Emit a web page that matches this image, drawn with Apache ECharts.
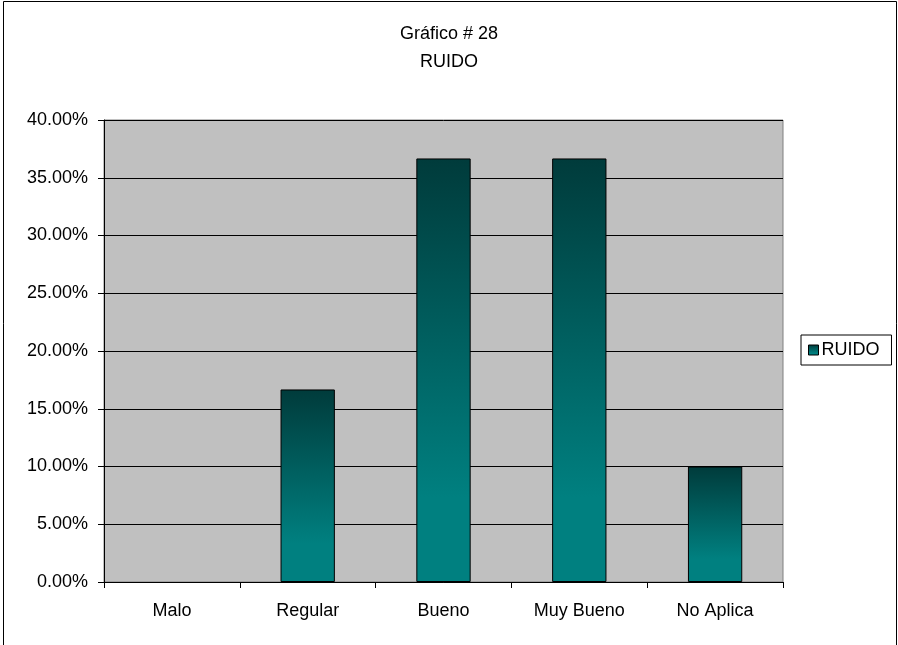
<!DOCTYPE html>
<html>
<head>
<meta charset="utf-8">
<script src="https://cdn.jsdelivr.net/npm/echarts@6/dist/echarts.min.js"></script>
<style>
html,body{margin:0;padding:0;background:#fff;}
#main{width:898px;height:645px;}
</style>
</head>
<body>
<div id="main"></div>
<script>
var categories = ['Malo', 'Regular', 'Bueno', 'Muy Bueno', 'No Aplica'];
var values = [0, 16.67, 36.67, 36.67, 10];
var yTicks = { min: 0, max: 40, interval: 5 };

var chart = echarts.init(document.getElementById('main'));
var font = 'Arial, "Liberation Sans", sans-serif';

var barFill = new echarts.graphic.LinearGradient(0, 0, 0, 1, [
    { offset: 0, color: '#003b3b' },
    { offset: 0.8, color: '#008080' },
    { offset: 1, color: '#008080' }
]);

// zero bars get no outline, like the original
var barData = values.map(function (v) {
    return v === 0 ? { value: v, itemStyle: { borderWidth: 0 } } : v;
});

var option = {
    backgroundColor: '#fff',
    animation: false,
    title: {
        text: 'Gráfico # 28\nRUIDO',
        left: 'center',
        top: 15,
        textStyle: {
            fontFamily: font,
            fontSize: 18,
            fontWeight: 'normal',
            color: '#000',
            lineHeight: 28
        }
    },
    graphic: [{
        type: 'rect',
        shape: { x: 3.5, y: 1.5, width: 893, height: 660 },
        style: { fill: 'none', stroke: '#000', lineWidth: 1 },
        silent: true
    }],
    legend: {
        data: ['RUIDO'],
        left: 801,
        top: 335,
        orient: 'vertical',
        icon: 'rect',
        itemWidth: 10,
        itemHeight: 10,
        itemGap: 0,
        padding: [6, 12, 6, 7],
        borderColor: '#000',
        borderWidth: 1,
        backgroundColor: '#fff',
        textStyle: { fontFamily: font, fontSize: 18, color: '#000', padding: [0, 0, 0, -2] },
        itemStyle: { borderColor: '#000', borderWidth: 1 }
    },
    grid: {
        left: 104,
        right: 115,
        top: 120,
        bottom: 63,
        show: true,
        backgroundColor: '#c0c0c0',
        borderColor: '#808080',
        borderWidth: 1
    },
    xAxis: {
        type: 'category',
        data: categories,
        axisLine: { lineStyle: { color: '#000', width: 1 } },
        axisTick: { show: true, length: 6, alignWithLabel: false, lineStyle: { color: '#000' } },
        axisLabel: { fontFamily: font, fontSize: 18, color: '#000', margin: 20 }
    },
    yAxis: {
        type: 'value',
        min: yTicks.min,
        max: yTicks.max,
        interval: yTicks.interval,
        axisLine: { show: true, lineStyle: { color: '#000', width: 1 } },
        axisTick: { show: true, length: 6, lineStyle: { color: '#000' } },
        axisLabel: {
            fontFamily: font,
            fontSize: 18,
            color: '#000',
            margin: 16,
            formatter: function (v) { return v.toFixed(2) + '%'; }
        },
        splitLine: { show: true, lineStyle: { color: '#000', width: 1 } }
    },
    series: [{
        name: 'RUIDO',
        type: 'bar',
        data: barData,
        barWidth: '40%',
        itemStyle: {
            color: barFill,
            borderColor: '#000',
            borderWidth: 1
        }
    }]
};
chart.setOption(option);
</script>
</body>
</html>
